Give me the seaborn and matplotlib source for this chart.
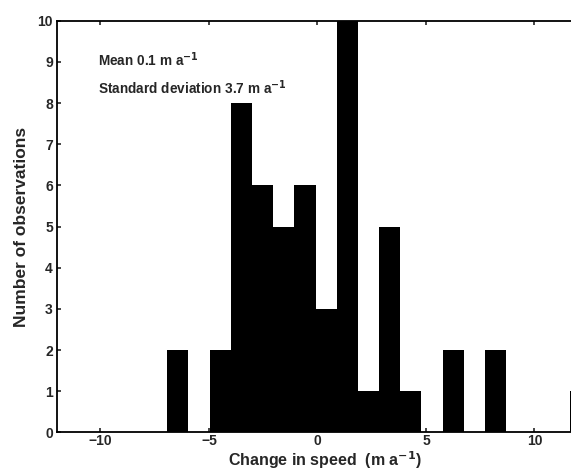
import matplotlib
matplotlib.use("Agg")
import matplotlib.pyplot as plt
import seaborn as sns

# --- Data (20 equal bins) ---
bin_centers = [-6.44, -5.46, -4.49, -3.51, -2.53, -1.56, -0.58, 0.40, 1.37, 2.35,
               3.33, 4.30, 5.28, 6.26, 7.23, 8.21, 9.19, 10.16, 11.14, 12.12]
counts = [2, 0, 2, 8, 6, 5, 6, 3, 10, 1,
          5, 1, 0, 2, 0, 2, 0, 0, 0, 1]
bin_range = (-6.93, 12.61)
n_bins = 20

stats_lines = ["Mean 0.1 m a$^{-1}$", "Standard deviation 3.7 m a$^{-1}$"]
x_ticks = [-10, -5, 0, 5, 10]
x_ticklabels = ["\u221210", "\u22125", "0", "5", "10"]
y_ticks = list(range(0, 11))

sns.set_style("white")
plt.rcParams['font.family'] = ['Liberation Sans', 'DejaVu Sans']
plt.rcParams['font.weight'] = 'bold'
plt.rcParams['mathtext.default'] = 'bf'

fig = plt.figure(figsize=(5.71, 4.71), dpi=100)
ax = fig.add_axes([0.100, 0.082, 0.912, 0.874])

sns.histplot(x=bin_centers, weights=counts, bins=n_bins, binrange=bin_range,
             color='black', edgecolor='none', alpha=1.0, linewidth=0, ax=ax)

ax.set_xlim(-12, 12)
ax.set_ylim(0, 10)
ax.set_xticks(x_ticks)
ax.set_xticklabels(x_ticklabels)
ax.set_yticks(y_ticks)
ax.tick_params(direction='in', length=3, width=1.2, labelsize=10,
               top=True, bottom=True, left=True, right=False, pad=3)
ax.tick_params(axis='x', pad=1.5)
for lbl in ax.get_xticklabels() + ax.get_yticklabels():
    lbl.set_fontweight('bold')
for s in ax.spines.values():
    s.set_linewidth(1.3)
    s.set_color('black')

ax.set_xlabel("Change in speed  (m a$^{-1}$)", fontsize=11.5, fontweight='bold')
ax.xaxis.label.set_va('baseline')
ax.xaxis.set_label_coords(0.515, -0.082)
ax.set_ylabel("Number of observations", fontsize=12.5, fontweight='bold', labelpad=6)

ax.text(0.078, 0.905, stats_lines[0], transform=ax.transAxes, fontsize=9.8,
        fontweight='bold', va='center', ha='left')
ax.text(0.078, 0.838, stats_lines[1], transform=ax.transAxes, fontsize=9.8,
        fontweight='bold', va='center', ha='left')

fig.savefig("out.png", dpi=100)
